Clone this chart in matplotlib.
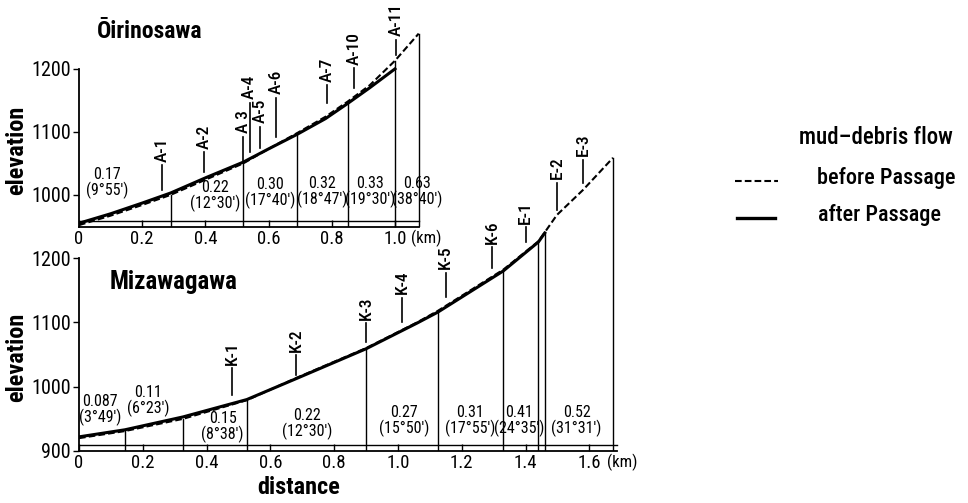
import numpy as np
import matplotlib
matplotlib.use("Agg")
import matplotlib.pyplot as plt
from matplotlib.lines import Line2D

# ---------------- data ----------------
# Oirinosawa (upper panel)
top_x_before = [0, 0.1, 0.2, 0.29, 0.4, 0.52, 0.6, 0.69, 0.78, 0.85, 0.92, 1.0, 1.075]
top_before = [952, 967, 984, 1000, 1024, 1050, 1073, 1098, 1124, 1148, 1174, 1213, 1256]
top_x_after = [0, 0.1, 0.2, 0.29, 0.4, 0.52, 0.6, 0.69, 0.78, 0.85, 0.92, 1.0]
top_after = [955, 970, 987, 1003, 1027, 1052, 1073, 1096, 1121, 1145, 1170, 1200]
top_bounds = [0.29, 0.52, 0.69, 0.85, 1.0, 1.075]
top_seg_x = [0.09, 0.43, 0.605, 0.77, 0.92, 1.07]
top_seg_y = [1019, 998, 1003, 1005, 1005, 1005]
top_seg_labels = ["0.17\n(9°55')", "0.22\n(12°30')", "0.30\n(17°40')",
                  "0.32\n(18°47')", "0.33\n(19°30')", "0.63\n(38°40')"]
top_st_names = ["A-1", "A-2", "A 3", "A-4", "A-5", "A-6", "A-7", "A-10", "A-11"]
top_st_x = [0.263, 0.396, 0.52, 0.54, 0.573, 0.623, 0.785, 0.87, 1.003]
top_st_lo = [1008, 1036, 1052, 1068, 1074, 1092, 1146, 1170, 1222]
top_st_hi = [1047, 1068, 1092, 1146, 1108, 1154, 1174, 1201, 1246]
top_yticks = [1000, 1100, 1200]
top_xticks = [0, 0.2, 0.4, 0.6, 0.8, 1.0]
top_xticklabels = ["0", "0.2", "0.4", "0.6", "0.8", "1.0"]

# Mizawagawa (lower panel)
bot_x_before = [0, 0.144, 0.326, 0.526, 0.683, 0.90, 1.06, 1.125, 1.33, 1.44, 1.46, 1.498, 1.58, 1.674]
bot_before = [920, 931, 950, 979, 1014, 1060, 1100, 1118, 1182, 1226, 1240, 1267, 1306, 1356]
bot_x_after = [0, 0.144, 0.326, 0.526, 0.683, 0.90, 1.06, 1.125, 1.33, 1.44, 1.46]
bot_after = [922, 933, 953, 980, 1013, 1059, 1099, 1116, 1180, 1225, 1239]
bot_bounds = [0.144, 0.326, 0.526, 0.90, 1.125, 1.33, 1.44, 1.46, 1.674]
bot_seg_x = [0.066, 0.216, 0.45, 0.715, 1.02, 1.225, 1.38, 1.56]
bot_seg_y = [964, 978, 937, 942, 947, 947, 947, 947]
bot_seg_labels = ["0.087\n(3°49')", "0.11\n(6°23')", "0.15\n(8°38')", "0.22\n(12°30')",
                  "0.27\n(15°50')", "0.31\n(17°55')", "0.41\n(24°35')", "0.52\n(31°31')"]
bot_st_names = ["K-1", "K-2", "K-3", "K-4", "K-5", "K-6", "E-1", "E-2", "E-3"]
bot_st_x = [0.48, 0.68, 0.90, 1.013, 1.15, 1.295, 1.40, 1.50, 1.58]
bot_st_lo = [987, 1018, 1070, 1101, 1140, 1185, 1225, 1275, 1317]
bot_st_hi = [1029, 1049, 1099, 1138, 1177, 1217, 1248, 1317, 1353]
bot_yticks = [900, 1000, 1100, 1200]
bot_xticks = [0, 0.2, 0.4, 0.6, 0.8, 1.0, 1.2, 1.4, 1.6]
bot_xticklabels = ["0", "0.2", "0.4", "0.6", "0.8", "1.0", "1.2", "1.4", "1.6"]

# ---------------- style ----------------
plt.rcParams["font.family"] = ["Roboto Condensed", "DejaVu Sans"]
plt.rcParams["font.stretch"] = "condensed"
W, H = 968, 503
fig = plt.figure(figsize=(W / 100, H / 100), dpi=100)
fig.patch.set_facecolor("white")


def add_axes_px(x0, xscale, xlim, ybot_px, yscale, ylim):
    left = x0 / W
    width = (xlim[1] - xlim[0]) * xscale / W
    bottom = (H - ybot_px) / H
    height = (ylim[1] - ylim[0]) * yscale / H
    ax = fig.add_axes([left, bottom, width, height])
    ax.set_xlim(xlim)
    ax.set_ylim(ylim)
    ax.patch.set_alpha(0)
    return ax


def draw_panel(ax, xb, yb, xa, ya, bounds, strip_y, end_x, ytop,
               seg_x, seg_y, seg_labels, st_names, st_x, st_lo, st_hi,
               yticks, xticks, xticklabels, km_x):
    y0 = ax.get_ylim()[0]
    ax.plot(xb, yb, color="k", lw=1.5, ls=(0, (3.2, 1.5)), zorder=3)
    ax.plot(xa, ya, color="k", lw=2.2, zorder=4)
    for bx in bounds:
        top = np.interp(bx, xb, yb)
        ax.plot([bx, bx], [y0, top], color="k", lw=1.0, zorder=2)
    ax.plot([0, end_x], [strip_y, strip_y], color="k", lw=1.0)
    for x, y, s in zip(seg_x, seg_y, seg_labels):
        ax.text(x, y, s, ha="center", va="center", fontsize=11.5, linespacing=1.0)
    for name, x, lo, hi in zip(st_names, st_x, st_lo, st_hi):
        ax.plot([x, x], [lo, hi], color="k", lw=1.2, clip_on=False)
        ax.annotate(name, xy=(x, hi), xytext=(0, 2.5), textcoords="offset points",
                    rotation=90, ha="center", va="bottom", fontsize=12.5,
                    fontweight="medium", annotation_clip=False)
    for s in ["top", "right"]:
        ax.spines[s].set_visible(False)
    ax.spines["left"].set_bounds(y0, ytop)
    ax.spines["bottom"].set_bounds(0, end_x)
    for s in ["left", "bottom"]:
        ax.spines[s].set_linewidth(1.3)
    ax.set_yticks(yticks)
    ax.set_yticklabels([str(v) for v in yticks])
    ax.set_xticks(xticks)
    ax.set_xticklabels(xticklabels)
    ax.tick_params(axis="y", direction="out", length=4, width=1.0, labelsize=14.5, pad=2)
    ax.tick_params(axis="x", direction="in", length=5, width=1.0, labelsize=13.5, pad=2)
    ax.annotate("(km)", xy=(km_x, 0), xycoords=("data", "axes fraction"),
                xytext=(0, -2), textcoords="offset points", ha="left", va="top",
                fontsize=12, annotation_clip=False)


ax1 = add_axes_px(79, 316, (0, 1.1), 227, 0.63, (949, 1265))
draw_panel(ax1, top_x_before, top_before, top_x_after, top_after, top_bounds,
           959, 1.075, 1200, top_seg_x, top_seg_y, top_seg_labels,
           top_st_names, top_st_x, top_st_lo, top_st_hi,
           top_yticks, top_xticks, top_xticklabels, 1.05)

ax2 = add_axes_px(79, 319, (0, 1.75), 451, 0.643, (900, 1370))
draw_panel(ax2, bot_x_before, bot_before, bot_x_after, bot_after, bot_bounds,
           910, 1.685, 1200, bot_seg_x, bot_seg_y, bot_seg_labels,
           bot_st_names, bot_st_x, bot_st_lo, bot_st_hi,
           bot_yticks, bot_xticks, bot_xticklabels, 1.655)

# titles and axis labels
fig.text(97 / W, 1 - 31 / H, "Ōirinosawa", ha="left", va="center", fontsize=17, fontweight="bold")
fig.text(110 / W, 1 - 282 / H, "Mizawagawa", ha="left", va="center", fontsize=18, fontweight="bold")
fig.text(17 / W, 1 - 150 / H, "elevation", rotation=90, ha="center", va="center", fontsize=17.5, fontweight="bold")
fig.text(17 / W, 1 - 357 / H, "elevation", rotation=90, ha="center", va="center", fontsize=17.5, fontweight="bold")
fig.text(299 / W, 1 - 488 / H, "distance", ha="center", va="center", fontsize=17.5, fontweight="bold")

# legend
fig.text(876 / W, 1 - 137 / H, "mud\u2013debris flow", ha="center", va="center", fontsize=16.5, fontweight="medium")
fig.add_artist(Line2D([735 / W, 778 / W], [1 - 181 / H, 1 - 181 / H], color="k", lw=1.5, ls=(0, (3.2, 1.5))))
fig.text(817 / W, 1 - 178 / H, "before Passage", ha="left", va="center", fontsize=16, fontweight="medium")
fig.add_artist(Line2D([737 / W, 775 / W], [1 - 218 / H, 1 - 218 / H], color="k", lw=2.4))
fig.text(818 / W, 1 - 215 / H, "after Passage", ha="left", va="center", fontsize=16, fontweight="medium")

fig.savefig("out.png", dpi=100, facecolor="white")
